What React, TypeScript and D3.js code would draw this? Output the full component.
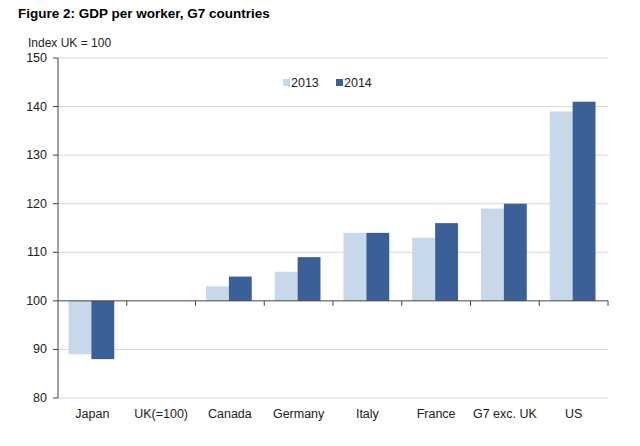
import React from "react";
import * as d3 from "d3";

const categories = ["Japan", "UK(=100)", "Canada", "Germany", "Italy", "France", "G7 exc. UK", "US"];
const series2013 = [89, 100, 103, 106, 114, 113, 119, 139];
const series2014 = [88, 100, 105, 109, 114, 116, 120, 141];
const seriesNames = ["2013", "2014"];
const yTicks = [80, 90, 100, 110, 120, 130, 140, 150];
const colors = ["#c6d8ea", "#3b6097"];

export default function App() {
  const W = 640, H = 446;
  const left = 58, right = 608, top = 58, bottom = 398;
  const y = d3.scaleLinear().domain([80, 150]).range([bottom, top]);
  const x = d3.scaleBand().domain(categories).range([left, right]).paddingInner(0).paddingOuter(0);
  const inner = d3.scaleBand().domain(seriesNames).range([10.5, x.bandwidth() - 12.5]).padding(0);
  const base = y(100);
  const font = "Liberation Sans, Arial, sans-serif";
  const data = [series2013, series2014];
  return (
    <svg width={W} height={H} style={{ position: "absolute", left: 0, top: 0 }} fontFamily={font}>
      <rect width={W} height={H} fill="#fff" />
      <text x={18} y={18} fontSize={13.5} fontWeight="bold" fill="#000">Figure 2: GDP per worker, G7 countries</text>
      <text x={28} y={47} fontSize={12} fill="#222">Index UK = 100</text>
      {yTicks.map((t) => (
        <g key={t}>
          {t !== 100 && <line x1={left} x2={right} y1={y(t)} y2={y(t)} stroke="#d9d9d9" strokeWidth={1} />}
          <line x1={left - 5} x2={left} y1={y(t)} y2={y(t)} stroke="#444" />
          <text x={47} y={y(t) + 4} fontSize={12.5} textAnchor="end" fill="#222">{t}</text>
        </g>
      ))}
      {categories.map((c, i) =>
        data.map((s, j) => {
          const v = s[i];
          const y0 = Math.min(y(v), base);
          const h = Math.abs(y(v) - base);
          return (
            <rect key={c + j} x={(x(c) as number) + (inner(seriesNames[j]) as number)} y={y0} width={inner.bandwidth()} height={h} fill={colors[j]} />
          );
        })
      )}
      <line x1={left} x2={left} y1={top} y2={bottom} stroke="#444" />
      <line x1={left} x2={right} y1={base} y2={base} stroke="#444" />
      {categories.map((c) => (
        <line key={"t" + c} x1={(x(c) as number) + x.bandwidth()} x2={(x(c) as number) + x.bandwidth()} y1={base} y2={base + 5} stroke="#444" />
      ))}
      {categories.map((c) => (
        <text key={"l" + c} x={(x(c) as number) + x.bandwidth() / 2} y={418} fontSize={12.5} textAnchor="middle" fill="#222">{c}</text>
      ))}
      {seriesNames.map((n, j) => (
        <g key={n} transform={`translate(${283 + j * 53},0)`}>
          <rect x={0} y={79} width={7} height={7} fill={colors[j]} />
          <text x={8} y={87} fontSize={12.5} fill="#222">{n}</text>
        </g>
      ))}
    </svg>
  );
}
